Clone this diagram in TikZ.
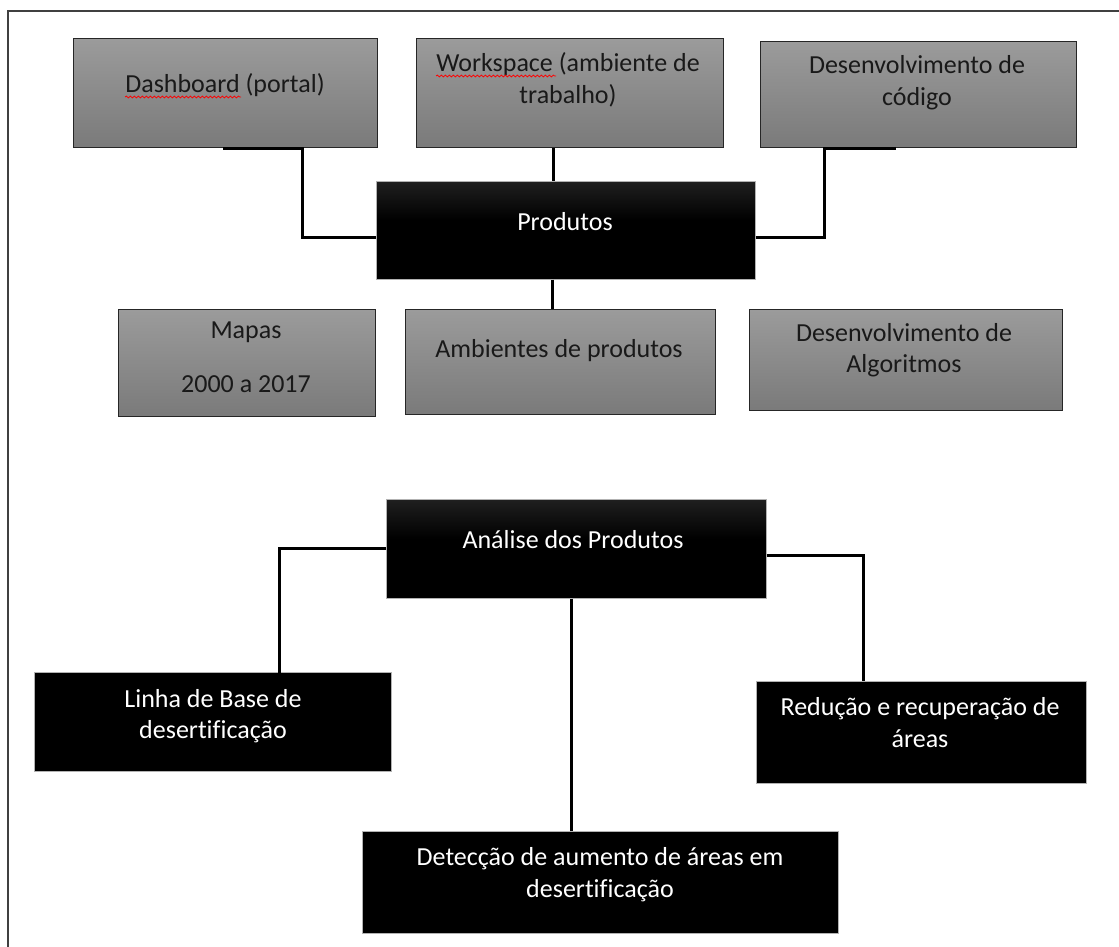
\documentclass[tikz,border=0pt]{standalone}
\usepackage{fontspec}
\setmainfont[Ligatures=NoCommon]{Carlito}
\usetikzlibrary{decorations.pathmorphing}
\definecolor{gtop}{RGB}{155,155,155}
\definecolor{gbot}{RGB}{122,122,122}
\definecolor{ktop}{RGB}{70,70,70}
\definecolor{frm}{RGB}{64,64,64}
\pgfdeclareverticalshading{kshade}{100bp}{color(0bp)=(black); color(55bp)=(black); color(100bp)=(ktop)}
\newcommand{\fsz}{\fontsize{26}{32}\selectfont}
\begin{document}
\begin{tikzpicture}[x=1pt,y=-1pt,
  gbox/.style={rectangle, draw=black!85, line width=1.4pt, top color=gtop, bottom color=gbot, anchor=north west, inner sep=0pt},
  kbox/.style={rectangle, draw=black!30, line width=0.6pt, shading=kshade, anchor=north west, inner sep=0pt},
  sbox/.style={rectangle, draw=black!30, line width=0.6pt, fill=black, anchor=north west, inner sep=0pt},
  conn/.style={line width=3pt, black},
  dtxt/.style={anchor=base, text=black!90, font=\fsz, inner sep=0pt},
  wtxt/.style={anchor=base, text=white, font=\fsz, inner sep=0pt},
  squig/.style={red, line width=0.8pt, decorate, decoration={snake, amplitude=0.9pt, segment length=4pt}}
]
\useasboundingbox (0,0) rectangle (1119,947);
\fill[white] (0,0) rectangle (1119,947);
% frame
\draw[frm, line width=1.6pt] (8,947) -- (8,11) -- (1119,11);

% boxes
\node[gbox, minimum width=304, minimum height=109] (dash) at (73,38) {};
\node[gbox, minimum width=307, minimum height=109] (work) at (416,38) {};
\node[gbox, minimum width=316, minimum height=106] (cod) at (760,41) {};
\node[kbox, minimum width=379, minimum height=98] (prod) at (376,181) {};
\node[gbox, minimum width=257, minimum height=107] (mapas) at (118,309) {};
\node[gbox, minimum width=310, minimum height=105] (amb) at (405,309) {};
\node[gbox, minimum width=313, minimum height=101] (alg) at (749,309) {};
\node[kbox, minimum width=380, minimum height=99] (anal) at (386,499) {};
\node[sbox, minimum width=357, minimum height=99] (linha) at (34,672) {};
\node[sbox, minimum width=330, minimum height=102] (red) at (756,681) {};
\node[sbox, minimum width=476, minimum height=102] (det) at (362,831) {};

% texts
\node[dtxt] (tdash) at (225,93) {Dashboard (portal)};
\node[dtxt] (twork1) at (568,72) {Workspace (ambiente de};
\node[dtxt] (twork2) at (568,104) {trabalho)};
\node[dtxt] (tcod1) at (917,74) {Desenvolvimento de};
\node[dtxt] (tcod2) at (917,106) {código};
\node[wtxt] (tprod) at (565,230) {Produtos};
\node[dtxt] (tmap1) at (246,338) {Mapas};
\node[dtxt] (tmap2) at (246,392) {2000 a 2017};
\node[dtxt] (tamb) at (559,357) {Ambientes de produtos};
\node[dtxt] (talg1) at (904,341) {Desenvolvimento de};
\node[dtxt] (talg2) at (904,372) {Algoritmos};
\node[wtxt] (tanal) at (573,548) {Análise dos Produtos};
\node[wtxt] (tlin1) at (213,707) {Linha de Base de};
\node[wtxt] (tlin2) at (213,738) {desertificação};
\node[wtxt] (tred1) at (920,715) {Redução e recuperação de};
\node[wtxt] (tred2) at (920,747) {áreas};
\node[wtxt] (tdet1) at (600,865) {Detecção de aumento de áreas em};
\node[wtxt] (tdet2) at (600,897) {desertificação};

% spell-check squiggles
\draw[squig] ([yshift=-4]tdash.base west) -- ++(116,0);
\draw[squig] ([yshift=-4]twork1.base west) -- ++(120,0);

% connectors
\draw[conn] ([xshift=150]dash.south west) -- ([xshift=229]dash.south west) |- ([yshift=-7]prod.west);
\draw[conn] ([xshift=-17]work.south) -- ([xshift=-17]work.south |- prod.north);
\draw[conn] ([yshift=-7]prod.east) -| ([xshift=64]cod.south west) -- ([xshift=136]cod.south west);
\draw[conn] ([xshift=-13.5]prod.south) -- ([xshift=-13.5]prod.south |- amb.north);
\draw[conn] (anal.west) -| ([xshift=245,yshift=-2]linha.north west) -- ([xshift=140,yshift=-2]linha.north west);
\draw[conn] ([yshift=-6.5]anal.east) -| ([xshift=107]red.north west);
\draw[conn] ([xshift=-5]anal.south) -- ([xshift=-5]anal.south |- det.north);
\end{tikzpicture}
\end{document}
